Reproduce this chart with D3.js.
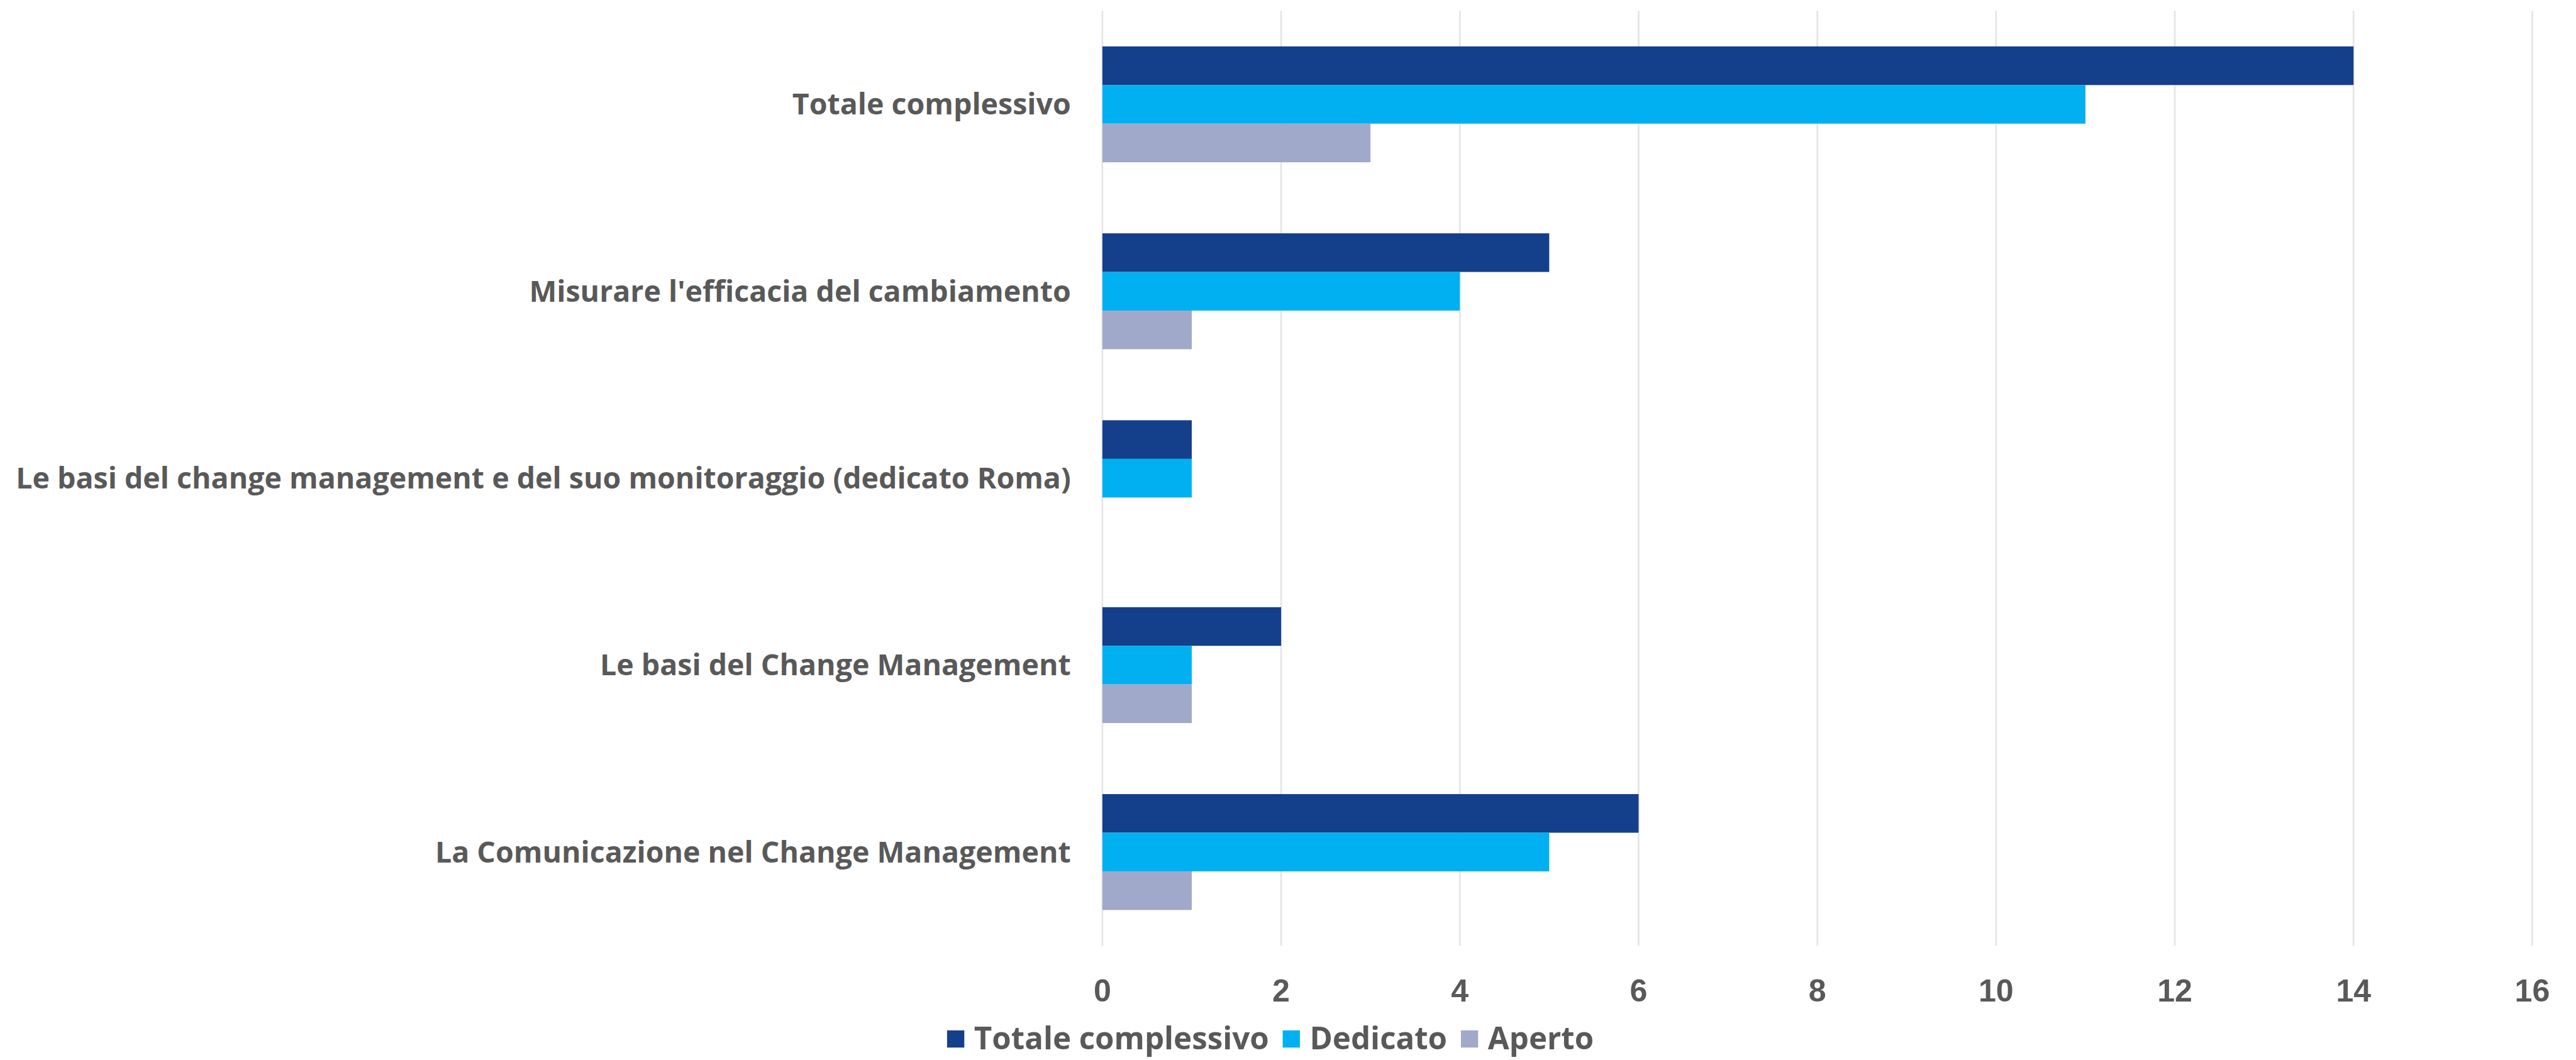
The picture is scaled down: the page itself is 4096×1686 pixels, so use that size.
<!DOCTYPE html>
<html>
<head>
<meta charset="utf-8">
<script src="https://cdn.jsdelivr.net/npm/d3@7"></script>
<style>
  html, body { margin: 0; padding: 0; background: #ffffff; }
  svg { display: block; }
</style>
</head>
<body>
<div id="chart"></div>
<script>
// data
const categories = [
    "Totale complessivo",
    "Misurare l'efficacia del cambiamento",
    "Le basi del change management e del suo monitoraggio (dedicato Roma)",
    "Le basi del Change Management",
    "La Comunicazione nel Change Management"
];
const seriesNames = ["Totale complessivo", "Dedicato", "Aperto"];
const totaleValues = [14, 5, 1, 2, 6];
const dedicatoValues = [11, 4, 1, 1, 5];
const apertoValues = [3, 1, 0, 1, 1];
const xTicks = [0, 2, 4, 6, 8, 10, 12, 14, 16];

const seriesValues = [totaleValues, dedicatoValues, apertoValues];

const scaleF = 0.912;           // reference -> window
const plot = { left: 1922, right: 4415, top: 19, bottom: 1649 };

const color = d3.scaleOrdinal()
    .domain(seriesNames)
    .range(["#143F8A", "#00B0F0", "#A1A9CA"]);

const textColor = "#595959";
const labelFont = "'Open Sans', 'Noto Sans', sans-serif";
const tickFont = "'Liberation Sans Narrow', 'Arial Narrow', 'Liberation Sans', sans-serif";

const svg = d3.select("#chart")
    .append("svg")
    .attr("width", 4096)
    .attr("height", 1686);

// everything is laid out in reference pixels, then scaled to the window
const g = svg.append("g")
    .attr("transform", `scale(${scaleF})`);

const x = d3.scaleLinear()
    .domain([0, 16])
    .range([plot.left, plot.right]);

const y = d3.scaleBand()
    .domain(categories)
    .range([plot.top, plot.bottom])
    .paddingInner(0.38)
    .paddingOuter(0.19);

const ySub = d3.scaleBand()
    .domain(seriesNames)
    .range([0, y.bandwidth()]);

// vertical gridlines
g.append("g")
    .selectAll("line")
    .data(xTicks)
    .enter()
    .append("line")
    .attr("x1", d => x(d))
    .attr("x2", d => x(d))
    .attr("y1", plot.top)
    .attr("y2", plot.bottom)
    .attr("stroke", "#E5E5E5")
    .attr("stroke-width", 3);

// bars
const rows = categories.map((c, i) => ({
    category: c,
    values: seriesNames.map((s, j) => ({ series: s, value: seriesValues[j][i] }))
}));

const groups = g.selectAll(".row")
    .data(rows)
    .enter()
    .append("g")
    .attr("class", "row")
    .attr("transform", d => `translate(0, ${y(d.category)})`);

groups.selectAll("rect")
    .data(d => d.values)
    .enter()
    .append("rect")
    .attr("x", x(0))
    .attr("y", d => ySub(d.series))
    .attr("width", d => x(d.value) - x(0))
    .attr("height", ySub.bandwidth())
    .attr("fill", d => color(d.series));

// x tick labels
g.append("g")
    .selectAll("text")
    .data(xTicks)
    .enter()
    .append("text")
    .attr("x", d => x(d))
    .attr("y", 1747)
    .attr("text-anchor", "middle")
    .style("font-family", tickFont)
    .style("font-weight", "bold")
    .style("font-size", "55px")
    .style("fill", textColor)
    .text(d => d);

// category labels
g.append("g")
    .selectAll("text")
    .data(categories)
    .enter()
    .append("text")
    .attr("x", 1867)
    .attr("y", d => y(d) + y.bandwidth() / 2)
    .attr("dy", "0.35em")
    .attr("text-anchor", "end")
    .style("font-family", labelFont)
    .style("font-weight", "bold")
    .style("font-size", "51px")
    .style("fill", textColor)
    .text(d => d);

// legend
const legend = g.append("g");
const sq = 30, sqGap = 17, itemGap = 24;
let lx = 0;
seriesNames.forEach(name => {
    const item = legend.append("g").attr("transform", `translate(${lx}, 0)`);
    item.append("rect")
        .attr("x", 0)
        .attr("y", -18 - sq / 2)
        .attr("width", sq)
        .attr("height", sq)
        .attr("fill", color(name));
    const t = item.append("text")
        .attr("x", sq + sqGap)
        .attr("y", 0)
        .style("font-family", labelFont)
        .style("font-weight", "bold")
        .style("font-size", "54px")
        .style("fill", textColor)
        .text(name);
    lx += sq + sqGap + t.node().getComputedTextLength() + itemGap;
});
const legendW = lx - itemGap;
legend.attr("transform", `translate(${2215 - legendW / 2}, 1830)`);
</script>
</body>
</html>
